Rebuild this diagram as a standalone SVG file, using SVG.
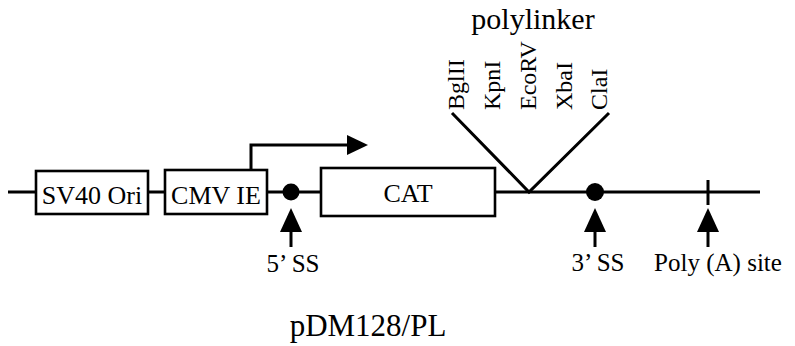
<svg xmlns="http://www.w3.org/2000/svg" width="795" height="346" viewBox="0 0 795 346">
<style>
  .ln { stroke: #000; stroke-width: 3; fill: none; }
  .box { stroke: #000; stroke-width: 2.6; fill: #fff; }
  .t { font-family: "Liberation Serif", "Times New Roman", serif; fill: #000; }
  .lab { font-size: 26px; text-anchor: middle; }
  .small { font-size: 25px; text-anchor: middle; }
  .site { font-size: 24px; }
</style>
<defs>
  <g id="uparrow">
    <line x1="0" y1="228" x2="0" y2="247" stroke="#000" stroke-width="3"/>
    <polygon points="-11,232 11,232 0,208" fill="#000"/>
  </g>
</defs>
<g id="connectors">
  <line class="ln" x1="8" y1="192" x2="760" y2="192"/>
  <polyline class="ln" points="251,170 251,145 350,145"/>
  <polygon points="347,135 368,145 347,155" fill="#000"/>
  <polyline class="ln" points="452,113 529,192 609,113"/>
  <line class="ln" x1="708" y1="180" x2="708" y2="205"/>
</g>
<g id="sv40">
  <rect class="box" x="36" y="171" width="112" height="43"/>
  <text class="t lab" x="92" y="204">SV40 Ori</text>
</g>
<g id="cmv">
  <rect class="box" x="165" y="170" width="102" height="44"/>
  <text class="t lab" x="216" y="204">CMV IE</text>
</g>
<g id="cat">
  <rect class="box" x="321" y="168" width="174" height="48"/>
  <text class="t lab" x="408" y="202">CAT</text>
</g>
<g id="ss5">
  <circle cx="291" cy="192" r="8.5" fill="#000"/>
  <use href="#uparrow" x="291"/>
  <text class="t small" x="293" y="272">5’ SS</text>
</g>
<g id="polylinker">
  <text class="t" x="533" y="29" font-size="30" text-anchor="middle">polylinker</text>
  <text class="t site" transform="translate(464,110) rotate(-90)">BglII</text>
  <text class="t site" transform="translate(500,110) rotate(-90)">KpnI</text>
  <text class="t site" transform="translate(536,110) rotate(-90)">EcoRV</text>
  <text class="t site" transform="translate(572,110) rotate(-90)">XbaI</text>
  <text class="t site" transform="translate(607,110) rotate(-90)">ClaI</text>
</g>
<g id="ss3">
  <circle cx="595" cy="192" r="9" fill="#000"/>
  <use href="#uparrow" x="595"/>
  <text class="t small" x="598" y="271">3’ SS</text>
</g>
<g id="polya">
  <use href="#uparrow" x="708"/>
  <text class="t small" x="718" y="271" font-size="27">Poly (A) site</text>
</g>
<text class="t" x="368" y="336" font-size="31" text-anchor="middle">pDM128/PL</text>
</svg>
